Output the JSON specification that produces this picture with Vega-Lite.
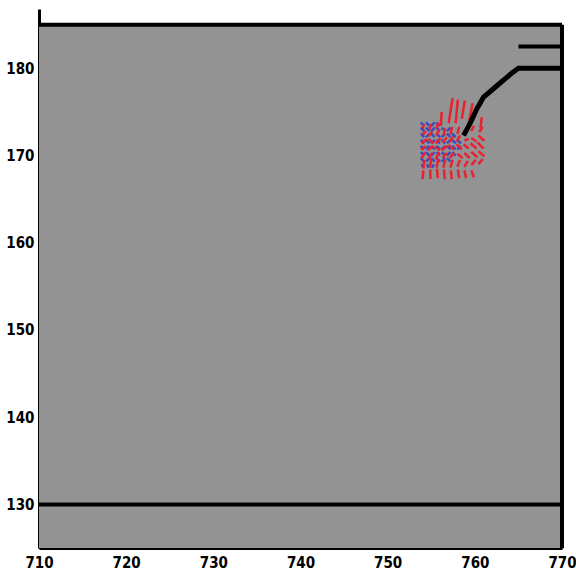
{
  "$schema": "https://vega.github.io/schema/vega-lite/v6.json",
  "autosize": {"type": "none"},
  "padding": {"left": 39, "top": 9, "right": 14, "bottom": 24},
  "width": 523,
  "height": 539,
  "background": "white",
  "config": {"view": {"stroke": null}},
  "datasets": {
    "panel": [{"x": 710, "x2": 770, "y": 125, "y2": 185}],
    "frame": [
      {"x": 710, "x2": 770, "y": 185, "y2": 185},
      {"x": 710, "x2": 770, "y": 130, "y2": 130},
      {"x": 770, "x2": 770, "y": 125, "y2": 185},
      {"x": 765, "x2": 770, "y": 182.5, "y2": 182.5}
    ],
    "traj": [
      {"i": 1, "x": 758.7, "y": 172.3},
      {"i": 2, "x": 759.2, "y": 173.2},
      {"i": 3, "x": 759.7, "y": 174.2},
      {"i": 4, "x": 760.2, "y": 175.3},
      {"i": 5, "x": 760.6, "y": 176.0},
      {"i": 6, "x": 761.0, "y": 176.7},
      {"i": 7, "x": 761.6, "y": 177.2},
      {"i": 8, "x": 762.3, "y": 177.8},
      {"i": 9, "x": 763.0, "y": 178.4},
      {"i": 10, "x": 763.6, "y": 178.9},
      {"i": 11, "x": 764.3, "y": 179.5},
      {"i": 12, "x": 765.0, "y": 180.0},
      {"i": 13, "x": 770.0, "y": 180.0}
    ],
    "blue": [
      {"x": 753.8, "y": 173.8, "x2": 754.2, "y2": 173.4},
      {"x": 754.4, "y": 173.8, "x2": 754.8, "y2": 173.4},
      {"x": 755.0, "y": 173.4, "x2": 755.4, "y2": 173.8},
      {"x": 755.6, "y": 173.8, "x2": 756.0, "y2": 173.4},
      {"x": 753.8, "y": 173.2, "x2": 754.2, "y2": 172.8},
      {"x": 754.4, "y": 173.2, "x2": 754.8, "y2": 172.8},
      {"x": 755.0, "y": 172.8, "x2": 755.4, "y2": 173.2},
      {"x": 755.6, "y": 173.2, "x2": 756.0, "y2": 172.8},
      {"x": 756.2, "y": 173.2, "x2": 756.6, "y2": 172.8},
      {"x": 756.8, "y": 172.8, "x2": 757.2, "y2": 173.2},
      {"x": 753.8, "y": 172.5, "x2": 754.2, "y2": 172.1},
      {"x": 754.4, "y": 172.1, "x2": 754.8, "y2": 172.5},
      {"x": 755.0, "y": 172.5, "x2": 755.4, "y2": 172.1},
      {"x": 755.6, "y": 172.5, "x2": 756.0, "y2": 172.1},
      {"x": 756.2, "y": 172.1, "x2": 756.6, "y2": 172.5},
      {"x": 756.8, "y": 172.5, "x2": 757.2, "y2": 172.1},
      {"x": 757.4, "y": 172.5, "x2": 757.8, "y2": 172.1},
      {"x": 753.8, "y": 171.8, "x2": 754.2, "y2": 171.4},
      {"x": 754.4, "y": 171.8, "x2": 754.8, "y2": 171.4},
      {"x": 755.0, "y": 171.4, "x2": 755.4, "y2": 171.8},
      {"x": 755.6, "y": 171.8, "x2": 756.0, "y2": 171.4},
      {"x": 756.2, "y": 171.8, "x2": 756.6, "y2": 171.4},
      {"x": 756.8, "y": 171.4, "x2": 757.2, "y2": 171.8},
      {"x": 757.4, "y": 171.8, "x2": 757.8, "y2": 171.4},
      {"x": 758.0, "y": 171.8, "x2": 758.4, "y2": 171.4},
      {"x": 753.8, "y": 171.1, "x2": 754.2, "y2": 170.7},
      {"x": 754.4, "y": 170.7, "x2": 754.8, "y2": 171.1},
      {"x": 755.0, "y": 171.1, "x2": 755.4, "y2": 170.7},
      {"x": 755.6, "y": 171.1, "x2": 756.0, "y2": 170.7},
      {"x": 756.2, "y": 170.7, "x2": 756.6, "y2": 171.1},
      {"x": 756.8, "y": 171.1, "x2": 757.2, "y2": 170.7},
      {"x": 757.4, "y": 171.1, "x2": 757.8, "y2": 170.7},
      {"x": 758.0, "y": 170.7, "x2": 758.4, "y2": 171.1},
      {"x": 753.8, "y": 170.4, "x2": 754.2, "y2": 170.0},
      {"x": 754.4, "y": 170.4, "x2": 754.8, "y2": 170.0},
      {"x": 755.0, "y": 170.0, "x2": 755.4, "y2": 170.4},
      {"x": 755.6, "y": 170.4, "x2": 756.0, "y2": 170.0},
      {"x": 756.2, "y": 170.4, "x2": 756.6, "y2": 170.0},
      {"x": 756.8, "y": 170.0, "x2": 757.2, "y2": 170.4},
      {"x": 757.4, "y": 170.4, "x2": 757.8, "y2": 170.0},
      {"x": 753.8, "y": 169.7, "x2": 754.2, "y2": 169.3},
      {"x": 754.4, "y": 169.3, "x2": 754.8, "y2": 169.7},
      {"x": 755.0, "y": 169.7, "x2": 755.4, "y2": 169.3},
      {"x": 755.6, "y": 169.7, "x2": 756.0, "y2": 169.3},
      {"x": 756.2, "y": 169.3, "x2": 756.6, "y2": 169.7},
      {"x": 756.8, "y": 169.7, "x2": 757.2, "y2": 169.3},
      {"x": 753.9, "y": 169.0, "x2": 754.1, "y2": 168.6},
      {"x": 754.5, "y": 169.0, "x2": 754.7, "y2": 168.6},
      {"x": 755.1, "y": 168.6, "x2": 755.3, "y2": 169.0}
    ],
    "red": [
      {"x": 754.0, "y": 167.3, "x2": 754.1, "y2": 168.3},
      {"x": 754.9, "y": 167.3, "x2": 754.9, "y2": 168.4},
      {"x": 755.75, "y": 167.4, "x2": 755.65, "y2": 168.5},
      {"x": 756.55, "y": 167.3, "x2": 756.45, "y2": 168.4},
      {"x": 757.35, "y": 167.3, "x2": 757.25, "y2": 168.3},
      {"x": 758.2, "y": 167.4, "x2": 758.05, "y2": 168.4},
      {"x": 759.0, "y": 167.4, "x2": 758.8, "y2": 168.3},
      {"x": 759.9, "y": 167.5, "x2": 759.6, "y2": 168.3},
      {"x": 754.1, "y": 168.5, "x2": 754.2, "y2": 169.5},
      {"x": 754.85, "y": 168.6, "x2": 755.0, "y2": 169.6},
      {"x": 755.6, "y": 168.6, "x2": 755.8, "y2": 169.6},
      {"x": 756.4, "y": 168.6, "x2": 756.6, "y2": 169.5},
      {"x": 757.2, "y": 168.6, "x2": 757.45, "y2": 169.5},
      {"x": 758.0, "y": 168.7, "x2": 758.3, "y2": 169.5},
      {"x": 758.8, "y": 168.7, "x2": 759.2, "y2": 169.4},
      {"x": 759.6, "y": 168.9, "x2": 760.1, "y2": 169.5},
      {"x": 760.4, "y": 169.0, "x2": 760.9, "y2": 169.6},
      {"x": 753.9, "y": 169.7, "x2": 754.3, "y2": 170.4},
      {"x": 754.7, "y": 169.6, "x2": 755.1, "y2": 170.3},
      {"x": 755.5, "y": 169.6, "x2": 755.9, "y2": 170.4},
      {"x": 756.3, "y": 169.7, "x2": 756.8, "y2": 170.3},
      {"x": 757.1, "y": 169.7, "x2": 757.6, "y2": 170.3},
      {"x": 758.0, "y": 170.2, "x2": 758.6, "y2": 169.7},
      {"x": 758.8, "y": 170.3, "x2": 759.4, "y2": 169.7},
      {"x": 759.6, "y": 170.4, "x2": 760.3, "y2": 169.8},
      {"x": 760.4, "y": 170.5, "x2": 761.1, "y2": 169.9},
      {"x": 753.8, "y": 170.7, "x2": 754.4, "y2": 171.1},
      {"x": 754.6, "y": 170.6, "x2": 755.2, "y2": 171.1},
      {"x": 755.4, "y": 171.0, "x2": 756.0, "y2": 170.6},
      {"x": 756.2, "y": 170.6, "x2": 756.8, "y2": 171.1},
      {"x": 757.0, "y": 171.2, "x2": 757.6, "y2": 170.7},
      {"x": 757.9, "y": 171.3, "x2": 758.5, "y2": 170.7},
      {"x": 758.7, "y": 171.3, "x2": 759.3, "y2": 170.8},
      {"x": 759.5, "y": 171.4, "x2": 760.2, "y2": 170.8},
      {"x": 760.3, "y": 171.5, "x2": 761.0, "y2": 170.8},
      {"x": 753.9, "y": 171.4, "x2": 754.5, "y2": 171.9},
      {"x": 754.7, "y": 171.9, "x2": 755.3, "y2": 171.4},
      {"x": 755.5, "y": 171.4, "x2": 756.1, "y2": 172.0},
      {"x": 756.3, "y": 171.5, "x2": 756.8, "y2": 172.1},
      {"x": 757.1, "y": 171.5, "x2": 757.5, "y2": 172.2},
      {"x": 757.9, "y": 171.6, "x2": 758.3, "y2": 172.3},
      {"x": 758.8, "y": 171.7, "x2": 759.3, "y2": 171.9},
      {"x": 759.6, "y": 172.0, "x2": 760.2, "y2": 171.6},
      {"x": 760.4, "y": 172.3, "x2": 761.1, "y2": 171.7},
      {"x": 754.0, "y": 172.4, "x2": 754.4, "y2": 172.8},
      {"x": 754.7, "y": 172.2, "x2": 755.1, "y2": 172.8},
      {"x": 755.6, "y": 172.3, "x2": 755.9, "y2": 173.0},
      {"x": 756.4, "y": 172.3, "x2": 756.6, "y2": 173.1},
      {"x": 757.2, "y": 172.4, "x2": 757.4, "y2": 173.3},
      {"x": 758.0, "y": 172.5, "x2": 758.2, "y2": 173.3},
      {"x": 759.6, "y": 172.8, "x2": 759.9, "y2": 173.4},
      {"x": 760.5, "y": 172.7, "x2": 760.9, "y2": 173.3},
      {"x": 754.0, "y": 173.1, "x2": 754.2, "y2": 173.6},
      {"x": 754.8, "y": 173.0, "x2": 755.0, "y2": 173.6},
      {"x": 755.6, "y": 173.1, "x2": 755.8, "y2": 173.8},
      {"x": 756.1, "y": 173.4, "x2": 756.2, "y2": 175.0},
      {"x": 757.0, "y": 173.7, "x2": 757.45, "y2": 176.6},
      {"x": 757.8, "y": 173.7, "x2": 758.05, "y2": 176.4},
      {"x": 758.5, "y": 174.2, "x2": 758.85, "y2": 176.3},
      {"x": 759.35, "y": 174.0, "x2": 759.75, "y2": 176.0},
      {"x": 760.65, "y": 173.2, "x2": 760.8, "y2": 174.4}
    ]
  },
  "encoding": {
    "x": {"field": "x", "type": "quantitative",
      "scale": {"domain": [710, 770], "nice": false, "zero": false},
      "axis": {"values": [710, 720, 730, 740, 750, 760, 770], "title": null, "grid": false,
        "domainColor": "black", "domainWidth": 3, "tickColor": "black", "tickWidth": 2, "tickSize": -6,
        "labelPadding": 13, "labelFont": "DejaVu Sans Condensed, Liberation Sans, sans-serif", "labelFontWeight": "bold", "labelFontSize": 15,
        "labelColor": "black", "labelFlush": false, "labelOverlap": false}},
    "y": {"field": "y", "type": "quantitative",
      "scale": {"domain": [125, 186.8], "nice": false, "zero": false},
      "axis": {"values": [130, 140, 150, 160, 170, 180], "title": null, "grid": false,
        "domainColor": "black", "domainWidth": 3, "tickColor": "black", "tickWidth": 2, "tickSize": -6,
        "labelPadding": 11, "labelFont": "DejaVu Sans Condensed, Liberation Sans, sans-serif", "labelFontWeight": "bold", "labelFontSize": 15,
        "labelColor": "black", "labelFlush": false, "labelOverlap": false}}
  },
  "layer": [
    {"data": {"name": "panel"}, "mark": {"type": "rect", "color": "#939393"},
      "encoding": {"x2": {"field": "x2"}, "y2": {"field": "y2"}}},
    {"data": {"name": "blue"}, "mark": {"type": "rule", "color": "#3c4bc0", "strokeWidth": 2.5},
      "encoding": {"x2": {"field": "x2"}, "y2": {"field": "y2"}}},
    {"data": {"name": "red"}, "mark": {"type": "rule", "color": "#ea2230", "strokeWidth": 2.5},
      "encoding": {"x2": {"field": "x2"}, "y2": {"field": "y2"}}},
    {"data": {"name": "frame"}, "mark": {"type": "rule", "color": "black", "strokeWidth": 4},
      "encoding": {"x2": {"field": "x2"}, "y2": {"field": "y2"}}},
    {"data": {"name": "traj"}, "mark": {"type": "line", "color": "black", "strokeWidth": 5},
      "encoding": {"order": {"field": "i", "type": "quantitative"}}}
  ]
}
